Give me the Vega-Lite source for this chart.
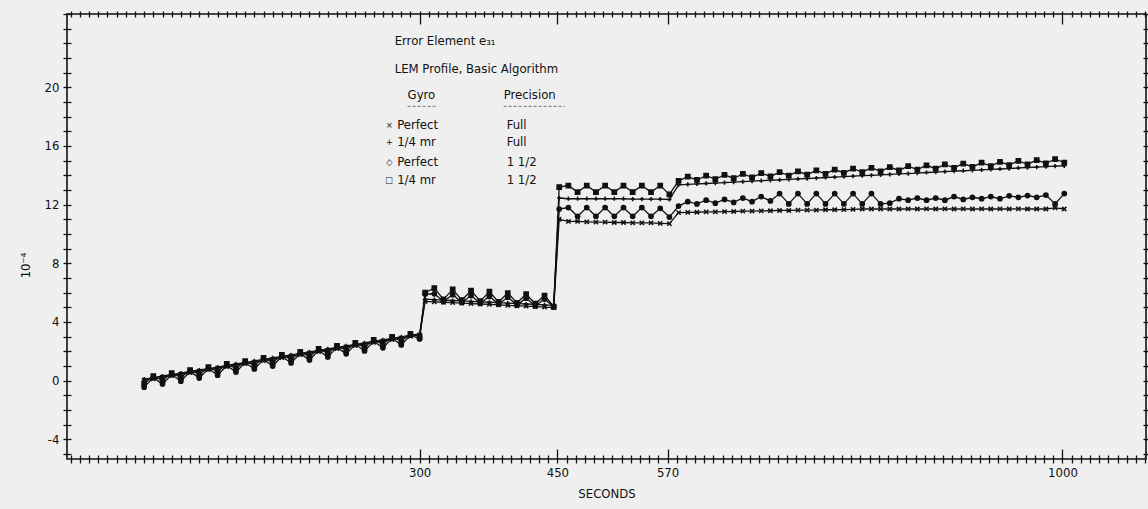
{
  "$schema": "https://vega.github.io/schema/vega-lite/v6.json",
  "width": 1079,
  "height": 445,
  "autosize": {"type": "none"},
  "padding": {"left": 67, "top": 14, "right": 2, "bottom": 50},
  "background": "#efefef",
  "config": {
    "view": {"stroke": "#111", "strokeWidth": 1.6},
    "font": "Liberation Sans Narrow, DejaVu Sans Condensed, sans-serif",
    "axis": {"grid": false, "domain": false, "tickColor": "#111", "tickWidth": 1.3, "labelFont": "Liberation Sans Narrow, DejaVu Sans Condensed, sans-serif", "labelFontSize": 13, "labelColor": "#111", "titleFont": "Liberation Sans Narrow, DejaVu Sans Condensed, sans-serif", "titleFontWeight": "normal", "titleFontSize": 13, "titleColor": "#111", "labelOverlap": false, "labelFlush": false}
  },
  "datasets": {
    "series": [
      {"t":0,"pf":0.02,"qf":0.10,"p15":-0.45,"q15":-0.20},
      {"t":10,"pf":0.12,"qf":0.20,"p15":0.20,"q15":0.30},
      {"t":20,"pf":0.23,"qf":0.31,"p15":-0.24,"q15":0.01},
      {"t":30,"pf":0.33,"qf":0.41,"p15":0.41,"q15":0.51},
      {"t":40,"pf":0.43,"qf":0.51,"p15":-0.04,"q15":0.21},
      {"t":50,"pf":0.54,"qf":0.62,"p15":0.62,"q15":0.72},
      {"t":60,"pf":0.64,"qf":0.72,"p15":0.17,"q15":0.42},
      {"t":70,"pf":0.74,"qf":0.82,"p15":0.82,"q15":0.92},
      {"t":80,"pf":0.84,"qf":0.92,"p15":0.37,"q15":0.62},
      {"t":90,"pf":0.95,"qf":1.03,"p15":1.03,"q15":1.13},
      {"t":100,"pf":1.05,"qf":1.13,"p15":0.58,"q15":0.83},
      {"t":110,"pf":1.15,"qf":1.23,"p15":1.23,"q15":1.33},
      {"t":120,"pf":1.26,"qf":1.34,"p15":0.79,"q15":1.04},
      {"t":130,"pf":1.36,"qf":1.44,"p15":1.44,"q15":1.54},
      {"t":140,"pf":1.46,"qf":1.54,"p15":0.99,"q15":1.24},
      {"t":150,"pf":1.57,"qf":1.65,"p15":1.65,"q15":1.75},
      {"t":160,"pf":1.67,"qf":1.75,"p15":1.20,"q15":1.45},
      {"t":170,"pf":1.77,"qf":1.85,"p15":1.85,"q15":1.95},
      {"t":180,"pf":1.87,"qf":1.95,"p15":1.40,"q15":1.65},
      {"t":190,"pf":1.98,"qf":2.06,"p15":2.06,"q15":2.16},
      {"t":200,"pf":2.08,"qf":2.16,"p15":1.61,"q15":1.86},
      {"t":210,"pf":2.18,"qf":2.26,"p15":2.26,"q15":2.36},
      {"t":220,"pf":2.29,"qf":2.37,"p15":1.82,"q15":2.07},
      {"t":230,"pf":2.39,"qf":2.47,"p15":2.47,"q15":2.57},
      {"t":240,"pf":2.49,"qf":2.57,"p15":2.02,"q15":2.27},
      {"t":250,"pf":2.60,"qf":2.68,"p15":2.68,"q15":2.78},
      {"t":260,"pf":2.70,"qf":2.78,"p15":2.23,"q15":2.48},
      {"t":270,"pf":2.80,"qf":2.88,"p15":2.88,"q15":2.98},
      {"t":280,"pf":2.90,"qf":2.98,"p15":2.43,"q15":2.68},
      {"t":290,"pf":3.01,"qf":3.09,"p15":3.09,"q15":3.19},
      {"t":300,"pf":3.11,"qf":3.19,"p15":2.84,"q15":3.00},
      {"t":306,"pf":5.40,"qf":5.55,"p15":5.90,"q15":6.00},
      {"t":316,"pf":5.37,"qf":5.52,"p15":5.92,"q15":6.31},
      {"t":326,"pf":5.34,"qf":5.49,"p15":5.39,"q15":5.54},
      {"t":336,"pf":5.31,"qf":5.46,"p15":5.86,"q15":6.22},
      {"t":346,"pf":5.28,"qf":5.43,"p15":5.33,"q15":5.48},
      {"t":356,"pf":5.25,"qf":5.40,"p15":5.80,"q15":6.14},
      {"t":366,"pf":5.22,"qf":5.37,"p15":5.27,"q15":5.42},
      {"t":376,"pf":5.19,"qf":5.34,"p15":5.74,"q15":6.06},
      {"t":386,"pf":5.16,"qf":5.31,"p15":5.21,"q15":5.36},
      {"t":396,"pf":5.13,"qf":5.28,"p15":5.68,"q15":5.97},
      {"t":406,"pf":5.10,"qf":5.25,"p15":5.15,"q15":5.30},
      {"t":416,"pf":5.07,"qf":5.22,"p15":5.62,"q15":5.89},
      {"t":426,"pf":5.04,"qf":5.19,"p15":5.09,"q15":5.24},
      {"t":436,"pf":5.01,"qf":5.16,"p15":5.56,"q15":5.80},
      {"t":446,"pf":4.98,"qf":5.13,"p15":5.03,"q15":5.05},
      {"t":452,"pf":11.00,"qf":12.45,"p15":11.70,"q15":13.20},
      {"t":462,"pf":10.85,"qf":12.40,"p15":11.80,"q15":13.30},
      {"t":472,"pf":10.85,"qf":12.40,"p15":11.20,"q15":12.85},
      {"t":482,"pf":10.82,"qf":12.40,"p15":11.80,"q15":13.30},
      {"t":492,"pf":10.80,"qf":12.40,"p15":11.20,"q15":12.85},
      {"t":502,"pf":10.80,"qf":12.40,"p15":11.80,"q15":13.30},
      {"t":512,"pf":10.78,"qf":12.40,"p15":11.20,"q15":12.85},
      {"t":522,"pf":10.78,"qf":12.40,"p15":11.80,"q15":13.30},
      {"t":532,"pf":10.76,"qf":12.38,"p15":11.20,"q15":12.85},
      {"t":542,"pf":10.75,"qf":12.38,"p15":11.80,"q15":13.30},
      {"t":552,"pf":10.75,"qf":12.37,"p15":11.20,"q15":12.85},
      {"t":562,"pf":10.72,"qf":12.37,"p15":11.75,"q15":13.30},
      {"t":572,"pf":10.70,"qf":12.35,"p15":11.15,"q15":12.70},
      {"t":582,"pf":11.45,"qf":13.35,"p15":11.90,"q15":13.62},
      {"t":592,"pf":11.47,"qf":13.38,"p15":12.20,"q15":13.91},
      {"t":602,"pf":11.48,"qf":13.41,"p15":12.05,"q15":13.68},
      {"t":612,"pf":11.50,"qf":13.44,"p15":12.30,"q15":13.97},
      {"t":622,"pf":11.50,"qf":13.47,"p15":12.10,"q15":13.74},
      {"t":632,"pf":11.52,"qf":13.50,"p15":12.35,"q15":14.03},
      {"t":642,"pf":11.53,"qf":13.54,"p15":12.15,"q15":13.80},
      {"t":652,"pf":11.55,"qf":13.57,"p15":12.45,"q15":14.09},
      {"t":662,"pf":11.55,"qf":13.60,"p15":12.20,"q15":13.86},
      {"t":672,"pf":11.57,"qf":13.63,"p15":12.55,"q15":14.15},
      {"t":682,"pf":11.58,"qf":13.66,"p15":12.25,"q15":13.92},
      {"t":692,"pf":11.60,"qf":13.69,"p15":12.75,"q15":14.21},
      {"t":702,"pf":11.60,"qf":13.72,"p15":12.05,"q15":13.98},
      {"t":712,"pf":11.62,"qf":13.75,"p15":12.75,"q15":14.27},
      {"t":722,"pf":11.62,"qf":13.78,"p15":12.05,"q15":14.04},
      {"t":732,"pf":11.63,"qf":13.81,"p15":12.75,"q15":14.33},
      {"t":742,"pf":11.65,"qf":13.85,"p15":12.05,"q15":14.10},
      {"t":752,"pf":11.65,"qf":13.88,"p15":12.75,"q15":14.39},
      {"t":762,"pf":11.66,"qf":13.91,"p15":12.05,"q15":14.16},
      {"t":772,"pf":11.68,"qf":13.94,"p15":12.75,"q15":14.45},
      {"t":782,"pf":11.70,"qf":13.97,"p15":12.05,"q15":14.22},
      {"t":792,"pf":11.70,"qf":14.00,"p15":12.75,"q15":14.51},
      {"t":802,"pf":11.70,"qf":14.03,"p15":12.05,"q15":14.27},
      {"t":812,"pf":11.70,"qf":14.06,"p15":12.10,"q15":14.56},
      {"t":822,"pf":11.70,"qf":14.09,"p15":12.40,"q15":14.33},
      {"t":832,"pf":11.71,"qf":14.12,"p15":12.30,"q15":14.62},
      {"t":842,"pf":11.70,"qf":14.15,"p15":12.45,"q15":14.39},
      {"t":852,"pf":11.71,"qf":14.19,"p15":12.30,"q15":14.68},
      {"t":862,"pf":11.70,"qf":14.22,"p15":12.45,"q15":14.45},
      {"t":872,"pf":11.71,"qf":14.25,"p15":12.30,"q15":14.74},
      {"t":882,"pf":11.70,"qf":14.28,"p15":12.55,"q15":14.51},
      {"t":892,"pf":11.71,"qf":14.31,"p15":12.35,"q15":14.80},
      {"t":902,"pf":11.70,"qf":14.34,"p15":12.50,"q15":14.57},
      {"t":912,"pf":11.71,"qf":14.37,"p15":12.40,"q15":14.86},
      {"t":922,"pf":11.70,"qf":14.40,"p15":12.55,"q15":14.63},
      {"t":932,"pf":11.71,"qf":14.43,"p15":12.40,"q15":14.92},
      {"t":942,"pf":11.70,"qf":14.46,"p15":12.60,"q15":14.69},
      {"t":952,"pf":11.71,"qf":14.50,"p15":12.50,"q15":14.98},
      {"t":962,"pf":11.70,"qf":14.53,"p15":12.62,"q15":14.75},
      {"t":972,"pf":11.70,"qf":14.56,"p15":12.50,"q15":15.04},
      {"t":982,"pf":11.70,"qf":14.59,"p15":12.65,"q15":14.81},
      {"t":992,"pf":11.78,"qf":14.62,"p15":12.05,"q15":15.10},
      {"t":1002,"pf":11.70,"qf":14.65,"p15":12.75,"q15":14.87}
    ],
    "notes": [
      {"x":272.8,"y":23.15,"label":"Error Element e₃₁"},
      {"x":272.8,"y":21.23,"label":"LEM Profile,  Basic Algorithm"},
      {"x":286.9,"y":19.45,"label":"Gyro"},
      {"x":391.5,"y":19.45,"label":"Precision"},
      {"x":275.5,"y":17.40,"label":"Perfect"},
      {"x":275.5,"y":16.30,"label":"1/4 mr"},
      {"x":275.5,"y":14.93,"label":"Perfect"},
      {"x":275.5,"y":13.70,"label":"1/4 mr"},
      {"x":394.8,"y":17.40,"label":"Full"},
      {"x":394.8,"y":16.30,"label":"Full"},
      {"x":394.8,"y":14.93,"label":"1 1/2"},
      {"x":394.8,"y":13.70,"label":"1 1/2"}
    ],
    "symbols": [
      {"x":267.0,"y":17.40,"label":"×"},
      {"x":267.0,"y":16.30,"label":"+"},
      {"x":267.0,"y":14.93,"label":"◇"},
      {"x":267.0,"y":13.70,"label":"□"}
    ],
    "underlines": [
      {"x":286.9,"x2":318.5,"y":18.70},
      {"x":391.5,"x2":458.0,"y":18.70}
    ]
  },
  "layer": [
    {
      "data": {"name": "series"},
      "transform": [{"fold": ["pf","qf","p15","q15"], "as": ["series","value"]}],
      "mark": {"type": "line", "color": "#111", "strokeWidth": 1.3},
      "encoding": {
        "x": {"field": "t", "type": "quantitative",
              "scale": {"domain": [-84, 1091], "nice": false, "zero": false},
              "axis": {"orient": "bottom", "title": "SECONDS", "titlePadding": 8,
                       "values": [-80,-70,-60,-50,-40,-30,-20,-10,0,10,20,30,40,50,60,70,80,90,100,110,120,130,140,150,160,170,180,190,200,210,220,230,240,250,260,270,280,290,300,310,320,330,340,350,360,370,380,390,400,410,420,430,440,450,460,470,480,490,500,510,520,530,540,550,560,570,580,590,600,610,620,630,640,650,660,670,680,690,700,710,720,730,740,750,760,770,780,790,800,810,820,830,840,850,860,870,880,890,900,910,920,930,940,950,960,970,980,990,1000,1010,1020,1030,1040,1050,1060,1070,1080,1090],
                       "format": "d", "tickSize": 4, "labelPadding": 3,
                       "labelExpr": "indexof([300,450,570,1000], datum.value) >= 0 ? datum.label : ''"}},
        "y": {"field": "value", "type": "quantitative",
              "scale": {"domain": [-5.35, 25], "nice": false, "zero": false},
              "axis": {"orient": "left", "title": "10⁻⁴", "titleX": -42, "titleY": 251, "titleAngle": -90, "titleAlign": "center", "titleBaseline": "middle",
                       "values": [-5,-4,-3,-2,-1,0,1,2,3,4,5,6,7,8,9,10,11,12,13,14,15,16,17,18,19,20,21,22,23,24,25],
                       "tickSize": 4, "labelPadding": 4,
                       "labelExpr": "(datum.value % 4 == 0 && datum.value <= 20) ? ('' + datum.value) : ''"}},
        "detail": {"field": "series"}
      }
    },
    {
      "data": {"name": "series"},
      "transform": [{"fold": ["pf","qf","p15","q15"], "as": ["series","value"]}],
      "mark": {"type": "point", "filled": false, "fill": "#111", "stroke": "#111", "strokeWidth": 1.5, "size": 18, "opacity": 1},
      "encoding": {
        "x": {"field": "t", "type": "quantitative",
              "axis": {"orient": "bottom", "title": null, "labels": false,
                       "values": [-80,-70,-60,-50,-40,-30,-20,-10,0,10,20,30,40,50,60,70,80,90,100,110,120,130,140,150,160,170,180,190,200,210,220,230,240,250,260,270,280,290,300,310,320,330,340,350,360,370,380,390,400,410,420,430,440,450,460,470,480,490,500,510,520,530,540,550,560,570,580,590,600,610,620,630,640,650,660,670,680,690,700,710,720,730,740,750,760,770,780,790,800,810,820,830,840,850,860,870,880,890,900,910,920,930,940,950,960,970,980,990,1000,1010,1020,1030,1040,1050,1060,1070,1080,1090],
                       "tickSize": {"condition": {"test": "indexof([300,450,570,1000], datum.value) >= 0", "value": -10}, "value": -4}}},
        "y": {"field": "value", "type": "quantitative",
              "axis": {"orient": "left", "title": null, "labels": false,
                       "values": [-5,-4,-3,-2,-1,0,1,2,3,4,5,6,7,8,9,10,11,12,13,14,15,16,17,18,19,20,21,22,23,24,25],
                       "tickSize": -4}},
        "shape": {"field": "series", "type": "nominal", "legend": null,
                  "scale": {"domain": ["pf","qf","p15","q15"], "range": ["M-1,-1L1,1M-1,1L1,-1", "M-1,0L1,0M0,-1L0,1", "circle", "square"]}}
      }
    },
    {
      "data": {"name": "notes"},
      "mark": {"type": "text", "align": "left", "baseline": "middle", "fontSize": 13, "color": "#111", "font": "Liberation Sans Narrow, DejaVu Sans Condensed, sans-serif"},
      "encoding": {
        "x": {"field": "x", "type": "quantitative",
              "axis": {"orient": "top", "title": null, "labels": false,
                       "values": [-80,-70,-60,-50,-40,-30,-20,-10,0,10,20,30,40,50,60,70,80,90,100,110,120,130,140,150,160,170,180,190,200,210,220,230,240,250,260,270,280,290,300,310,320,330,340,350,360,370,380,390,400,410,420,430,440,450,460,470,480,490,500,510,520,530,540,550,560,570,580,590,600,610,620,630,640,650,660,670,680,690,700,710,720,730,740,750,760,770,780,790,800,810,820,830,840,850,860,870,880,890,900,910,920,930,940,950,960,970,980,990,1000,1010,1020,1030,1040,1050,1060,1070,1080,1090],
                       "tickSize": 3}},
        "y": {"field": "y", "type": "quantitative",
              "axis": {"orient": "right", "title": null, "labels": false,
                       "values": [-5,-4,-3,-2,-1,0,1,2,3,4,5,6,7,8,9,10,11,12,13,14,15,16,17,18,19,20,21,22,23,24,25],
                       "tickSize": 3}},
        "text": {"field": "label"}
      }
    },
    {
      "data": {"name": "underlines"},
      "mark": {"type": "rule", "color": "#777", "strokeWidth": 1, "strokeDash": [3, 2]},
      "encoding": {
        "x": {"field": "x", "type": "quantitative",
              "axis": {"orient": "top", "title": null, "labels": false,
                       "values": [-80,-70,-60,-50,-40,-30,-20,-10,0,10,20,30,40,50,60,70,80,90,100,110,120,130,140,150,160,170,180,190,200,210,220,230,240,250,260,270,280,290,300,310,320,330,340,350,360,370,380,390,400,410,420,430,440,450,460,470,480,490,500,510,520,530,540,550,560,570,580,590,600,610,620,630,640,650,660,670,680,690,700,710,720,730,740,750,760,770,780,790,800,810,820,830,840,850,860,870,880,890,900,910,920,930,940,950,960,970,980,990,1000,1010,1020,1030,1040,1050,1060,1070,1080,1090],
                       "tickSize": {"condition": {"test": "indexof([300,450,570,1000], datum.value) >= 0", "value": -10}, "value": -3}}},
        "x2": {"field": "x2"},
        "y": {"field": "y", "type": "quantitative",
              "axis": {"orient": "right", "title": null, "labels": false,
                       "values": [-5,-4,-3,-2,-1,0,1,2,3,4,5,6,7,8,9,10,11,12,13,14,15,16,17,18,19,20,21,22,23,24,25],
                       "tickSize": -3}}
      }
    },
    {
      "data": {"name": "symbols"},
      "mark": {"type": "text", "align": "center", "baseline": "middle", "fontSize": 9, "color": "#111"},
      "encoding": {
        "x": {"field": "x", "type": "quantitative", "axis": null},
        "y": {"field": "y", "type": "quantitative", "axis": null},
        "text": {"field": "label"}
      }
    }
  ],
  "resolve": {"axis": {"x": "independent", "y": "independent"}}
}
